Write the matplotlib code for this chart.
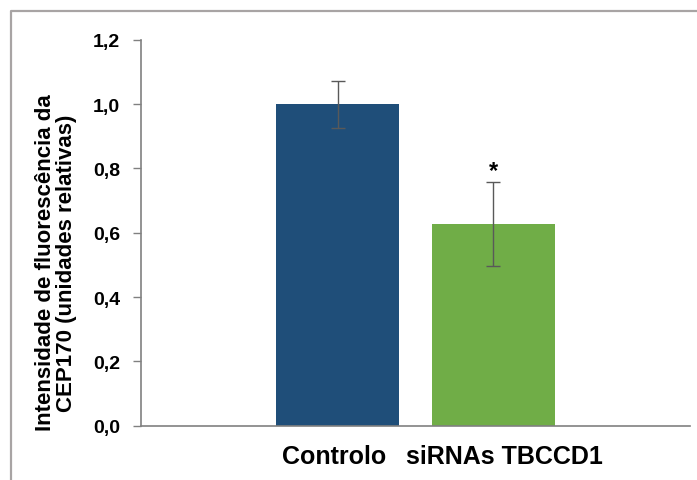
import matplotlib
matplotlib.use("Agg")
import matplotlib.pyplot as plt
from matplotlib.lines import Line2D
from matplotlib.transforms import ScaledTranslation

categories = ["Controlo", "siRNAs TBCCD1"]
values = [1.0, 0.627]
errors = [0.073, 0.13]
bar_colors = ["#1F4E79", "#70AD47"]
yticks = [0.0, 0.2, 0.4, 0.6, 0.8, 1.0, 1.2]
ytick_labels = ["0,0", "0,2", "0,4", "0,6", "0,8", "1,0", "1,2"]

plt.rcParams["font.family"] = ["Liberation Sans", "DejaVu Sans"]

W, H = 697, 481
fig = plt.figure(figsize=(W / 100, H / 100), dpi=100)
ax = fig.add_axes([141 / W, 1 - 426.7 / H, (690 - 141) / W, (426.7 - 40.7) / H])

x = list(range(len(categories)))
ax.bar(x, values, width=0.79, color=bar_colors, zorder=2)
ax.errorbar(x, values, yerr=errors, fmt="none", ecolor="#595959",
            elinewidth=1.0, capsize=5, capthick=1.0, zorder=3)

# significance mark above the treated group
ax.text(1, values[1] + errors[1] + 0.0, "*", ha="center", va="bottom",
        fontsize=17, fontweight="bold", color="black")

ax.set_xlim(-1.26, 2.26)
ax.set_ylim(0, 1.2)
ax.set_yticks(yticks)
ax.set_yticklabels(ytick_labels)
ax.set_xticks(x)
ax.set_xticklabels(categories)

for s in ["top", "right"]:
    ax.spines[s].set_visible(False)
for s in ["left", "bottom"]:
    ax.spines[s].set_color("#808080")
    ax.spines[s].set_linewidth(1.2)

ax.tick_params(axis="y", direction="out", length=6, width=1.0, color="#808080",
               labelsize=14, pad=9)
ax.tick_params(axis="x", length=0, labelsize=18, pad=13)
for lbl in ax.get_yticklabels() + ax.get_xticklabels():
    lbl.set_fontweight("bold")

# nudge the category labels sideways
xl = ax.get_xticklabels()
xl[0].set_transform(xl[0].get_transform() + ScaledTranslation(-3 / 100, 0, fig.dpi_scale_trans))
xl[1].set_transform(xl[1].get_transform() + ScaledTranslation(11 / 100, 0, fig.dpi_scale_trans))

fig.text(56 / W, 1 - 263 / H, "Intensidade de fluorescência da\nCEP170 (unidades relativas)",
         rotation=90, ha="center", va="center", fontsize=16, fontweight="bold",
         linespacing=1.0)

# frame around the chart area
px = 10.5
py = H - 12
fig.add_artist(Line2D([px / W, px / W, 1.0], [0.0, py / H, py / H],
                      transform=fig.transFigure, color="#A8A4A4", linewidth=1.6))

fig.savefig("out.png", dpi=100)
